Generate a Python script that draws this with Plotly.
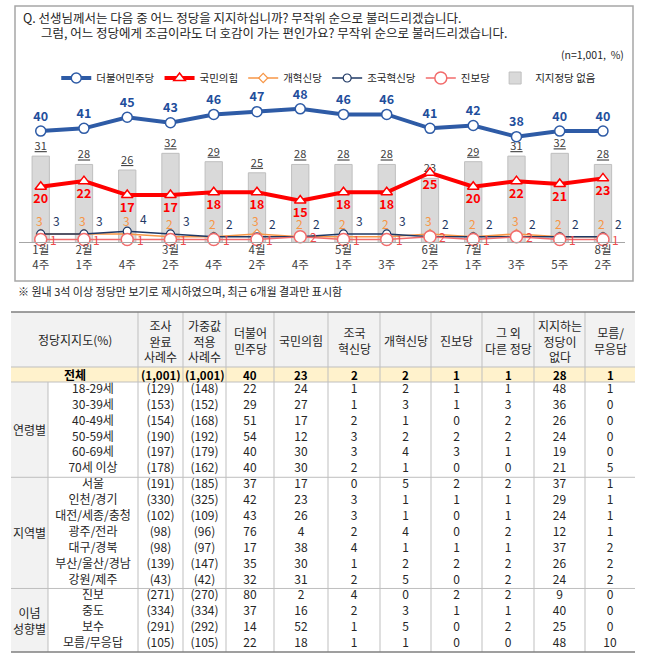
import plotly.graph_objects as go

# 조사 시점
months = ['1월', '2월', '', '3월', '', '4월', '', '5월', '', '6월', '7월', '', '', '8월']
weeks = ['4주', '1주', '4주', '2주', '4주', '2주', '4주', '1주', '3주', '2주', '1주', '3주', '5주', '2주']

# 정당 지지도 추이 (%)
dem = [40, 41, 45, 43, 46, 47, 48, 46, 46, 41, 42, 38, 40, 40]
ppp = [20, 22, 17, 17, 18, 18, 15, 18, 18, 25, 20, 22, 21, 23]
reform = [3, 3, 3, 2, 2, 3, 2, 2, 2, 3, 2, 3, 2, 2]
rebuild = [3, 3, 4, 3, 2, 2, 2, 3, 3, 2, 2, 2, 2, 2]
progressive = [1, 1, 1, 1, 1, 1, 2, 1, 1, 2, 1, 2, 1, 1]
no_party = [31, 28, 26, 32, 29, 25, 28, 28, 28, 23, 29, 31, 32, 28]

# 표 데이터
headers = ['조사<br>완료<br>사례수', '가중값<br>적용<br>사례수', '더불어<br>민주당', '국민의힘', '조국<br>혁신당',
           '개혁신당', '진보당', '그 외<br>다른 정당', '지지하는<br>정당이<br>없다', '모름/<br>무응답']
total_row = ['(1,001)', '(1,001)', 40, 23, 2, 2, 1, 1, 28, 1]
groups = ['연령별', '지역별', '이념<br>성향별']
group_sizes = [6, 7, 4]
seg_labels = ['18-29세', '30-39세', '40-49세', '50-59세', '60-69세', '70세 이상',
              '서울', '인천/경기', '대전/세종/충청', '광주/전라', '대구/경북', '부산/울산/경남', '강원/제주',
              '진보', '중도', '보수', '모름/무응답']
n_done = [129, 153, 154, 190, 197, 178, 191, 330, 102, 98, 98, 139, 43, 271, 334, 291, 105]
n_weighted = [148, 152, 168, 192, 179, 162, 185, 325, 109, 96, 97, 147, 42, 270, 334, 292, 105]
t_dem = [22, 29, 51, 54, 40, 40, 37, 42, 43, 76, 17, 35, 32, 80, 37, 14, 22]
t_ppp = [24, 27, 17, 12, 30, 30, 17, 23, 26, 4, 38, 30, 31, 2, 16, 52, 18]
t_rebuild = [1, 1, 2, 3, 3, 2, 0, 3, 3, 2, 4, 1, 2, 4, 2, 1, 1]
t_reform = [2, 3, 1, 2, 4, 1, 5, 1, 1, 4, 1, 2, 5, 0, 3, 5, 1]
t_progressive = [1, 1, 0, 2, 3, 0, 2, 1, 0, 0, 1, 2, 0, 2, 1, 0, 0]
t_other = [1, 3, 2, 2, 1, 0, 2, 1, 1, 2, 1, 2, 2, 2, 1, 2, 0]
t_none = [48, 36, 26, 24, 19, 21, 37, 29, 24, 12, 37, 26, 24, 9, 40, 25, 48]
t_dk = [1, 0, 0, 0, 0, 5, 1, 1, 1, 1, 2, 2, 2, 0, 0, 0, 10]

W, H = 651, 658
FONT = 'Noto Sans CJK KR'
BLUE, RED, ORANGE, NAVY, PINK = '#2E5BA6', '#FF0000', '#F79646', '#1F3864', '#F26B6B'

fig = go.Figure()
x = list(range(len(weeks)))
ticktext = [(m if m else ' ') + '<br>' + w for m, w in zip(months, weeks)]

fig.add_trace(go.Scatter(
    x=x, y=dem, name='더불어민주당', mode='lines+markers+text',
    line=dict(color=BLUE, width=4),
    marker=dict(symbol='circle', size=10, color='white', line=dict(color=BLUE, width=1.5)),
    text=['<b>%d</b>' % v for v in dem], textposition='top center',
    textfont=dict(size=12.5, color='#1F4E9C'), cliponaxis=False))
fig.add_trace(go.Scatter(
    x=x, y=ppp, name='국민의힘', mode='lines+markers+text',
    line=dict(color=RED, width=4),
    marker=dict(symbol='triangle-up', size=10, color='white', line=dict(color=RED, width=1.5)),
    text=['<b>%d</b>' % v for v in ppp], textposition='bottom center',
    textfont=dict(size=12.5, color=RED), cliponaxis=False))
fig.add_trace(go.Scatter(
    x=x, y=reform, name='개혁신당', mode='lines+markers',
    line=dict(color=ORANGE, width=1.5),
    marker=dict(symbol='diamond', size=7, color='white', line=dict(color=ORANGE, width=1.2)),
    cliponaxis=False))
fig.add_trace(go.Scatter(
    x=x, y=rebuild, name='조국혁신당', mode='lines+markers',
    line=dict(color=NAVY, width=1.5),
    marker=dict(symbol='circle', size=8, color='white', line=dict(color=NAVY, width=1.2)),
    cliponaxis=False))
fig.add_trace(go.Scatter(
    x=x, y=progressive, name='진보당', mode='lines+markers',
    line=dict(color=PINK, width=1.5),
    marker=dict(symbol='circle', size=12, color='white', line=dict(color=PINK, width=1.5)),
    cliponaxis=False))
fig.add_trace(go.Bar(
    x=x, y=no_party, name='지지정당 없음', width=0.4,
    marker=dict(color='#D9D9D9', line=dict(color='#BFBFBF', width=1)),
    text=['<u>%d</u>' % v for v in no_party], textposition='outside',
    textfont=dict(size=11, color='#404040'), cliponaxis=False))

# 소수 정당 라벨
for vals, col, dx, dy in [(reform, ORANGE, -1, 13), (rebuild, NAVY, 16, 13), (progressive, '#EE4B4B', 13, 0)]:
    for i, v in enumerate(vals):
        fig.add_annotation(x=i, y=v, xref='x', yref='y', text=str(v), showarrow=False,
                           xshift=dx, yshift=dy, font=dict(size=12, color=col))

# 텍스트/도형용 픽셀 좌표축 (x2, y2)
def txt(xp, yp, s, size=12, color='#262626', anchor='center', bold=False):
    fig.add_annotation(x=xp, y=yp, xref='x2', yref='y2', text=('<b>%s</b>' % s) if bold else s,
                       showarrow=False, xanchor=anchor, yanchor='middle',
                       font=dict(size=size, color=color, family=FONT))

def rect(x0, y0, x1, y1, fill=None, line=None, lw=1, layer='below'):
    fig.add_shape(type='rect', xref='x2', yref='y2', x0=x0, y0=y0, x1=x1, y1=y1, layer=layer,
                  fillcolor=fill if fill else 'rgba(0,0,0,0)',
                  line=dict(color=line if line else 'rgba(0,0,0,0)', width=lw if line else 0))

def hline(x0, x1, y, color='#BFBFBF', lw=1):
    fig.add_shape(type='line', xref='x2', yref='y2', x0=x0, x1=x1, y0=y, y1=y,
                  line=dict(color=color, width=lw), layer='above')

def vline(xp, y0, y1, color='#BFBFBF', lw=1):
    fig.add_shape(type='line', xref='x2', yref='y2', x0=xp, x1=xp, y0=y0, y1=y1,
                  line=dict(color=color, width=lw), layer='above')

# 차트 박스 및 설명
rect(15, 6, 633, 281, line='#A6A6A6', lw=1.5)
txt(21, 17, 'Q. 선생님께서는 다음 중 어느 정당을 지지하십니까? 무작위 순으로 불러드리겠습니다.', size=12.5, anchor='left')
txt(39, 32, '그럼, 어느 정당에게 조금이라도 더 호감이 가는 편인가요? 무작위 순으로 불러드리겠습니다.', size=12.5, anchor='left')
txt(626, 54, '(n=1,001,  %)', size=10.5, anchor='right')
txt(16, 291, '※ 원내 3석 이상 정당만 보기로 제시하였으며, 최근 6개월 결과만 표시함', size=11, anchor='left')

# 표
cols = [11, 48, 138, 183, 226, 274, 328, 380, 431, 482, 534, 585, 635]
head_top, head_bot, total_bot, body_bot = 312, 367, 382, 652
row_h = (body_bot - total_bot) / len(seg_labels)
centers = [(a + b) / 2 for a, b in zip(cols[:-1], cols[1:])]

rect(cols[0], head_top, cols[-1], head_bot, fill='#F2F2F2')
rect(cols[0], head_bot, cols[-1], total_bot, fill='#FFF2CC')
rect(cols[0], total_bot, cols[1], body_bot, fill='#F2F2F2')

txt((cols[0] + cols[2]) / 2, (head_top + head_bot) / 2, '정당지지도(%)')
for j, h in enumerate(headers):
    txt(centers[j + 2], (head_top + head_bot) / 2 + 1, h)
txt((cols[0] + cols[2]) / 2, (head_bot + total_bot) / 2, '전체', bold=True, color='black')
for j, v in enumerate(total_row):
    txt(centers[j + 2], (head_bot + total_bot) / 2, str(v), size=11.5, bold=True, color='black')

body_cols = [seg_labels, ['(%d)' % v for v in n_done], ['(%d)' % v for v in n_weighted],
             t_dem, t_ppp, t_rebuild, t_reform, t_progressive, t_other, t_none, t_dk]
ys = [total_bot + (i + 0.5) * row_h for i in range(len(seg_labels))]
for j, col in enumerate(body_cols):
    fig.add_trace(go.Scatter(x=[centers[j + 1]] * len(col), y=ys, mode='text', text=[str(v) for v in col],
                             textfont=dict(size=12, color='#262626', family=FONT),
                             xaxis='x2', yaxis='y2', showlegend=False, hoverinfo='skip'))

start = 0
for g, n in zip(groups, group_sizes):
    y0 = total_bot + start * row_h
    y1 = total_bot + (start + n) * row_h
    txt(centers[0], (y0 + y1) / 2, g)
    if start > 0:
        hline(cols[0], cols[-1], y0)
    start += n

for xp in cols[2:-1]:
    vline(xp, head_top, body_bot)
vline(cols[1], total_bot, body_bot)
hline(cols[0], cols[-1], head_bot)
hline(cols[0], cols[-1], total_bot)
hline(cols[0], cols[-1], head_top, color='#7F7F7F', lw=1.5)
hline(cols[0], cols[-1], body_bot, color='#7F7F7F', lw=1.5)

# 레이아웃
base_px, top_px = 242.3, 95
ppu = 2.78
fig.update_layout(
    width=W, height=H, margin=dict(l=0, r=0, t=0, b=0),
    paper_bgcolor='white', plot_bgcolor='rgba(0,0,0,0)',
    font=dict(family=FONT, size=12, color='#262626'),
    xaxis=dict(domain=[19.1 / W, 624.6 / W], range=[-0.5, 13.5], tickvals=x, ticktext=ticktext,
               showline=True, linecolor='#A6A6A6', linewidth=1, showgrid=False, zeroline=False,
               ticks='', ticklabelstandoff=-3, tickfont=dict(size=11.5, color='#404040'), fixedrange=True),
    yaxis=dict(domain=[1 - base_px / H, 1 - top_px / H], range=[0, (base_px - top_px) / ppu],
               visible=False, fixedrange=True),
    xaxis2=dict(domain=[0, 1], range=[0, W], visible=False, anchor='y2', fixedrange=True),
    yaxis2=dict(domain=[0, 1], range=[H, 0], visible=False, anchor='x2', fixedrange=True),
    legend=dict(orientation='h', x=0.505, xanchor='center', y=1 - 78 / H, yanchor='middle',
                font=dict(size=10.5, color='#262626'), itemwidth=30, traceorder='normal',
                bgcolor='rgba(0,0,0,0)'),
    showlegend=True,
)

fig.write_html("out.html", config={'displayModeBar': False},
               post_script="document.body.style.margin='0';")
